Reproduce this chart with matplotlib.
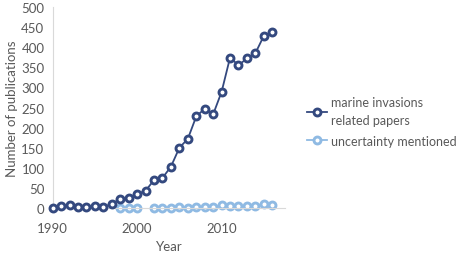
import numpy as np
import matplotlib
matplotlib.use("Agg")
import matplotlib.pyplot as plt

plt.rcParams['font.family'] = ['Lato', 'DejaVu Sans']

years = list(range(1990, 2017))
marine = [0, 5, 8, 2, 3, 5, 3, 10, 23, 26, 35, 43, 70, 75, 103, 150, 172,
          228, 247, 233, 289, 374, 355, 372, 385, 428, 437]
uncertainty = [np.nan] * 8 + [0, 0, 0, np.nan, 0, 1, 1, 2, 0, 3, 3, 2, 8,
                              5, 4, 5, 5, 11, 8]

dark = '#34497f'
light = '#8fbae3'
text_col = '#595959'

fig = plt.figure(figsize=(4.59, 2.55), dpi=100)
ax = fig.add_axes([0.1148, 0.18, 0.506, 0.789])

ax.plot(years, marine, color=dark, lw=1.3, marker='o', ms=5,
        mfc='white', mec=dark, mew=2.1, clip_on=False, zorder=3,
        label='marine invasions\nrelated papers')
ax.plot(years, uncertainty, color=light, lw=1.3, marker='o', ms=5,
        mfc='white', mec=light, mew=2.1, clip_on=False, zorder=2,
        label='uncertainty mentioned')

ax.set_xlim(1990, 2017.5)
ax.set_ylim(0, 500)
ax.set_xticks([1990, 2000, 2010])
ax.set_yticks(range(0, 501, 50))
for s in ['top', 'right']:
    ax.spines[s].set_visible(False)
ax.spines['left'].set_color('#d9d9d9')
ax.spines['bottom'].set_color('#d9d9d9')
ax.tick_params(axis='y', length=0, labelsize=9.5, colors=text_col, pad=6)
ax.tick_params(axis='x', length=0, labelsize=9.5, colors=text_col, pad=10)
ax.set_xlabel('Year', fontsize=9.5, color=text_col, labelpad=4)
ax.set_ylabel('Number of publications', fontsize=9.5, color=text_col, labelpad=2)

leg = fig.legend(loc='center left', bbox_to_anchor=(0.645, 0.52), frameon=False,
                 fontsize=9, labelcolor=text_col, handlelength=1.6,
                 handletextpad=0.3, labelspacing=0.7)
for t in leg.get_texts():
    t.set_linespacing(1.6)

fig.savefig('out.png', dpi=100)
